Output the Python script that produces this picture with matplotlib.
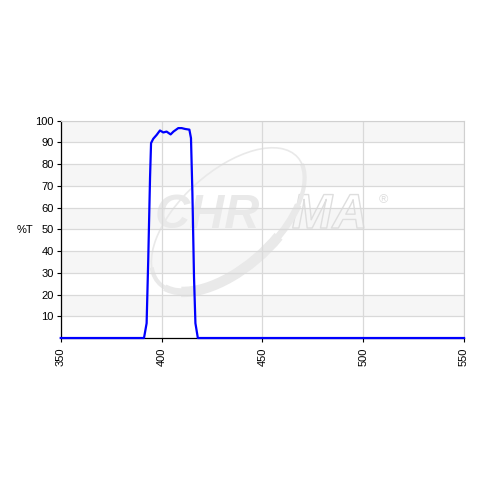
import matplotlib
matplotlib.use("Agg")
import matplotlib.pyplot as plt
from matplotlib.patches import Arc
import matplotlib.patheffects as pe

plt.rcParams['font.family'] = ['Liberation Sans', 'DejaVu Sans']

# transmission spectrum
wavelength = [350, 391.3, 392.6, 393.4, 394.3, 394.8, 395.9, 397.6, 399.2, 400.9,
              402.5, 404.5, 405.9, 408.3, 410.0, 411.7, 413.8, 414.6, 415.3, 416.1,
              416.8, 418.0, 550]
transmission = [0, 0, 6.8, 36, 74, 89.7, 91.7, 93.5, 95.5, 94.6,
                95.0, 93.7, 95.0, 96.6, 96.6, 96.2, 95.9, 92.0, 66.7, 28.0,
                6.8, 0, 0]

xticks = [350, 400, 450, 500, 550]
yticks = [10, 20, 30, 40, 50, 60, 70, 80, 90, 100]

fig = plt.figure(figsize=(4.8, 4.8), dpi=100)
ax = fig.add_axes([0.1265, 0.2958, 0.8402, 0.4527])
ax.set_xlim(350, 550)
ax.set_ylim(0, 100)

# alternating light bands
for lo in range(10, 100, 20):
    ax.axhspan(lo, lo + 10, color='#f6f6f6', zorder=0, lw=0)

ax.set_xticks(xticks)
ax.set_yticks(yticks)
ax.grid(True, color='#d9d9d9', lw=0.9, zorder=1)
ax.tick_params(axis='x', labelrotation=90, labelsize=8, length=3, pad=4)
ax.tick_params(axis='y', labelsize=8, length=3, pad=2)
for s in ['top', 'right']:
    ax.spines[s].set_color('#d0d0d0')
for s in ['left', 'bottom']:
    ax.spines[s].set_color('black')
    ax.spines[s].set_linewidth(0.9)

# faint watermark, placed in figure coords (square figure)
wm = '#e9e9e9'
ax.text(0.542, 0.525, 'CHR', transform=fig.transFigure, fontsize=35,
        fontweight='bold', style='italic', color=wm, ha='right',
        va='baseline', zorder=0.5)
ax.text(0.608, 0.525, 'MA', transform=fig.transFigure, fontsize=35,
        fontweight='bold', style='italic', color='none', ha='left',
        va='baseline', zorder=0.5,
        path_effects=[pe.withStroke(linewidth=1.0, foreground='#dedede')])
ax.text(0.798, 0.583, '®', transform=fig.transFigure, fontsize=9,
        color='#dedede', ha='center', va='center', zorder=0.5)
for t1, t2, w in [(0, 360, 1.2), (170, 355, 3), (185, 330, 5), (195, 300, 7.5)]:
    ax.add_patch(Arc((0.475, 0.542), 0.39, 0.2, angle=42, theta1=t1, theta2=t2,
                     transform=fig.transFigure, color=wm, lw=w, zorder=0.5,
                     clip_on=False))

ax.plot(wavelength, transmission, color='#0000ff', lw=1.6, zorder=3, clip_on=False)

fig.text(0.052, 0.52, '%T', fontsize=8, ha='center', va='center')

fig.savefig('out.png', dpi=100, facecolor='white')
